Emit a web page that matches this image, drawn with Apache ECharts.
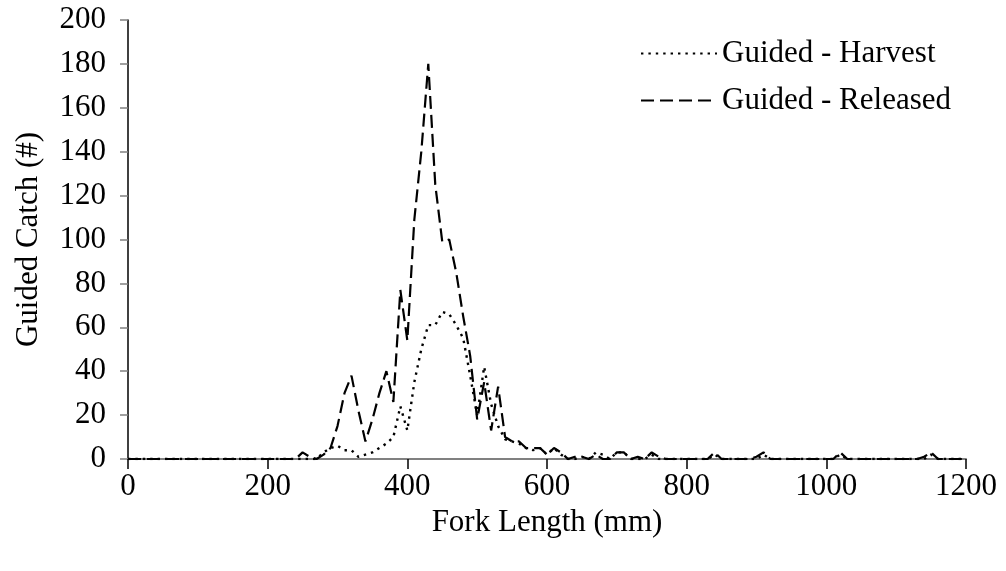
<!DOCTYPE html>
<html>
<head>
<meta charset="utf-8">
<script src="https://cdn.jsdelivr.net/npm/echarts@6/dist/echarts.min.js"></script>
<style>html,body{margin:0;padding:0;background:#fff;}#c{width:1006px;height:571px;}</style>
</head>
<body>
<div id="c"></div>
<script>
// Fork length bins (mm)
var lengths = [0,10,20,30,40,50,60,70,80,90,100,110,120,130,140,150,160,170,180,190,
  200,210,220,230,240,250,260,270,280,290,300,310,320,330,340,350,360,370,380,390,
  400,410,420,430,440,450,460,470,480,490,500,510,520,530,540,550,560,570,580,590,
  600,610,620,630,640,650,660,670,680,690,700,710,720,730,740,750,760,770,780,790,
  800,810,820,830,840,850,860,870,880,890,900,910,920,930,940,950,960,970,980,990,
  1000,1010,1020,1030,1040,1050,1060,1070,1080,1090,1100,1110,1120,1130,1140,1150,1160,1170,1180,1190,
  1200];
// Guided - Harvest
var harvest = [0,0,0,0,0,0,0,0,0,0,0,0,0,0,0,0,0,0,0,0,
  0,0,0,0,0,0,0,0,3,5,6,4,4,1,2,3,5,7,10,24,
  13,35,50,61,61,67,66,61,55,38,20,42,25,15,9,8,7,5,4,5,
  2,5,2,0,0,1,0,3,2,0,3,3,0,0,0,2,0,0,0,0,
  0,0,0,0,2,0,0,0,0,0,0,2,0,0,0,0,0,0,0,0,
  0,0,2,0,0,0,0,0,0,0,0,0,0,0,0,2,0,0,0,0,
  0];
// Guided - Released
var released = [0,0,0,0,0,0,0,0,0,0,0,0,0,0,0,0,0,0,0,0,
  0,0,0,0,0,3,1,0,2,5,15,30,38,22,8,18,30,40,26,77,
  54,109,140,180,125,99,100,85,65,47,18,35,13,33,10,8,8,5,5,5,
  2,5,3,0,1,1,0,2,0,0,3,3,0,1,0,3,1,0,0,0,
  0,0,0,0,3,0,0,0,0,0,1,3,0,0,0,0,0,0,0,0,
  0,0,3,0,0,0,0,0,0,0,0,0,0,0,1,3,0,0,0,0,
  0];
var seriesNames = ['Guided - Harvest', 'Guided - Released'];
var xTitle = 'Fork Length (mm)';
var yTitle = 'Guided Catch (#)';

function pairs(vals){ return lengths.map(function(x,i){ return [x, vals[i]]; }); }

var FONT = 'Liberation Serif';
var FS = 31;
var chart = echarts.init(document.getElementById('c'), null, {renderer:'canvas'});
chart.setOption({
  animation:false,
  backgroundColor:'#ffffff',
  textStyle:{fontFamily:FONT, color:'#000'},
  grid:{left:128, right:40, top:20, bottom:112, containLabel:false},
  legend:{
    orient:'vertical', left:640, top:38, padding:0,
    itemWidth:76, itemHeight:30, itemGap:16,
    itemStyle:{color:'rgba(0,0,0,0)', borderColor:'rgba(0,0,0,0)', borderWidth:0},
    textStyle:{fontFamily:FONT, fontSize:FS, color:'#000'},
    data:seriesNames
  },
  xAxis:{
    type:'value', min:0, max:1200, interval:200,
    name:xTitle, nameLocation:'middle', nameGap:48,
    nameTextStyle:{fontFamily:FONT, fontSize:FS, color:'#000'},
    axisLine:{lineStyle:{color:'#808080', width:2}},
    axisTick:{show:true, length:10, lineStyle:{color:'#000', width:1.5}},
    axisLabel:{fontFamily:FONT, fontSize:FS, color:'#000', margin:12,
      formatter:function(v){ return String(v); }},
    splitLine:{show:false}
  },
  yAxis:{
    type:'value', min:0, max:200, interval:20,
    name:yTitle, nameLocation:'middle', nameGap:84,
    nameTextStyle:{fontFamily:FONT, fontSize:FS, color:'#000'},
    axisLine:{show:true, lineStyle:{color:'#000', width:1.5}},
    axisTick:{show:true, length:8, lineStyle:{color:'#808080', width:1.5}},
    axisLabel:{fontFamily:FONT, fontSize:FS, color:'#000', margin:22,
      formatter:function(v){ return String(v); }},
    splitLine:{show:false}
  },
  series:[
    {name:seriesNames[0], type:'line', data:pairs(harvest), symbol:'none', showSymbol:false,
     lineStyle:{color:'#000', width:2.4, type:[2.4,5]}, itemStyle:{color:'#000'}, z:3},
    {name:seriesNames[1], type:'line', data:pairs(released), symbol:'none', showSymbol:false,
     lineStyle:{color:'#000', width:2.2, type:[13,6]}, itemStyle:{color:'#000'}, z:2}
  ]
});
</script>
</body>
</html>
